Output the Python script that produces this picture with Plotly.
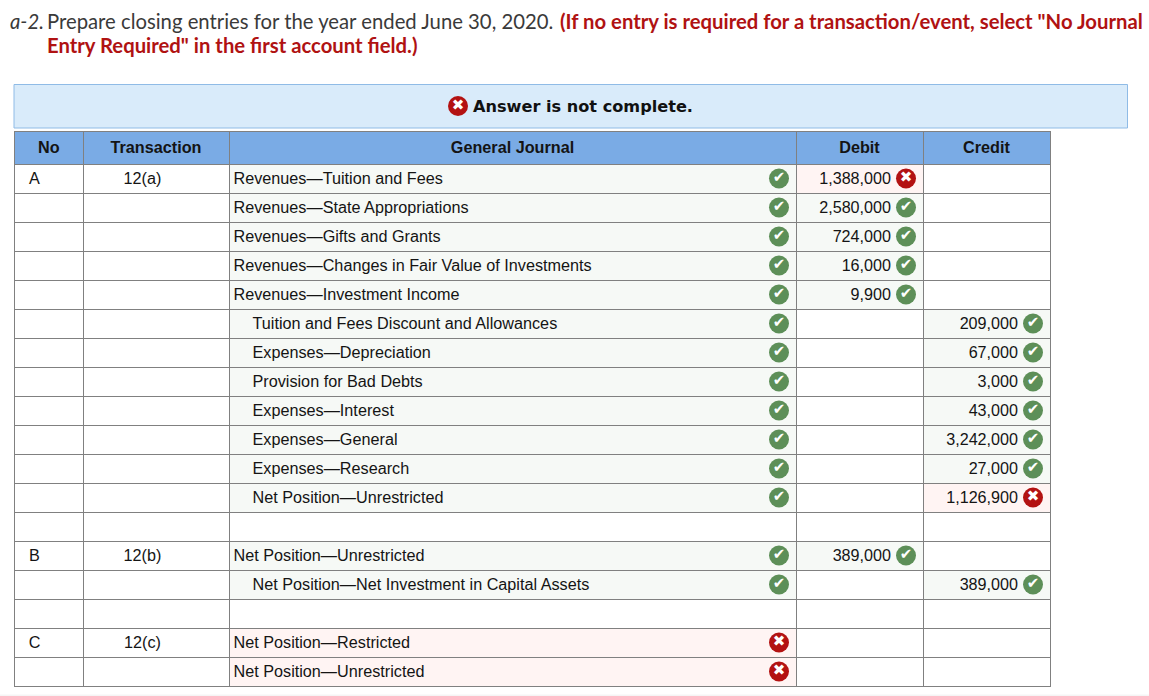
import plotly.graph_objects as go

# ---------- data ----------
headers = ["No", "Transaction", "General Journal", "Debit", "Credit"]
row_no = ["A", "", "", "", "", "", "", "", "", "", "", "", "", "B", "", "", "C", ""]
transactions = ["12(a)", "", "", "", "", "", "", "", "", "", "", "", "", "12(b)", "", "", "12(c)", ""]
accounts = [
    "Revenues—Tuition and Fees", "Revenues—State Appropriations", "Revenues—Gifts and Grants",
    "Revenues—Changes in Fair Value of Investments", "Revenues—Investment Income",
    "Tuition and Fees Discount and Allowances", "Expenses—Depreciation", "Provision for Bad Debts",
    "Expenses—Interest", "Expenses—General", "Expenses—Research", "Net Position—Unrestricted", "",
    "Net Position—Unrestricted", "Net Position—Net Investment in Capital Assets", "",
    "Net Position—Restricted", "Net Position—Unrestricted",
]
indented = [0, 0, 0, 0, 0, 1, 1, 1, 1, 1, 1, 1, 0, 0, 1, 0, 0, 0]
debit = [1388000, 2580000, 724000, 16000, 9900, None, None, None, None, None, None, None, None,
         389000, None, None, None, None]
credit = [None, None, None, None, None, 209000, 67000, 3000, 43000, 3242000, 27000, 1126900, None,
          None, 389000, None, None, None]
# 1 = correct, 0 = wrong, None = nothing graded
journal_ok = [1, 1, 1, 1, 1, 1, 1, 1, 1, 1, 1, 1, None, 1, 1, None, 0, 0]
debit_ok = [0, 1, 1, 1, 1, None, None, None, None, None, None, None, None, 1, None, None, None, None]
credit_ok = [None, None, None, None, None, 1, 1, 1, 1, 1, 1, 0, None, None, 1, None, None, None]

title_lead = "a-2."
title_text = "Prepare closing entries for the year ended June 30, 2020."
title_bold_1 = '(If no entry is required for a transaction/event, select "No Journal'
title_bold_2 = 'Entry Required" in the first account field.)'
banner_text = "Answer is not complete."

# ---------- layout constants ----------
W, H = 1149, 696
col_edges = [14.5, 83, 229, 796, 923, 1050]
TOP, HEAD_BOTTOM, ROW_H = 131.5, 164, 29
N = len(accounts)
head_rows = (HEAD_BOTTOM - TOP) / ROW_H
BOTTOM = HEAD_BOTTOM + N * ROW_H
TEXT_DROP = 1 / ROW_H  # text sits one pixel below the row centre

GREEN, RED = "#5d8f58", "#b31212"
OK_BG, BAD_BG = "#f6f9f6", "#fff4f3"
HEAD_BG = "#7aabe5"
GRID = "#808080"
INK = "#141414"
BODY = "Liberation Sans, Arial, sans-serif"
TITLE = "Lato, sans-serif"
ROWS = list(range(N))


def fmt(v):
    return "" if v is None else f"{v:,}"


def px(x):
    return x / W


def py(y):
    return 1 - y / H


fig = go.Figure()

shapes = [
    dict(type="rect", xref="x", yref="y", x0=col_edges[0], x1=col_edges[-1], y0=-head_rows, y1=0,
         fillcolor=HEAD_BG, line_width=0, layer="below"),
    dict(type="rect", xref="paper", yref="paper", x0=px(14), x1=px(1127.5), y0=py(84.5), y1=py(128),
         fillcolor="#d9ebfa", line=dict(color="#8fbbe6", width=1), layer="below"),
    dict(type="rect", xref="paper", yref="paper", x0=0, x1=1, y0=0, y1=py(694.5),
         fillcolor="#f5f5f5", line_width=0, layer="below"),
]
for col, states in ((2, journal_ok), (3, debit_ok), (4, credit_ok)):
    for i, s in enumerate(states):
        if s is not None:
            shapes.append(dict(type="rect", xref="x", yref="y", x0=col_edges[col], x1=col_edges[col + 1],
                               y0=i, y1=i + 1, fillcolor=OK_BG if s else BAD_BG, line_width=0, layer="below"))

centers = [i + 0.5 for i in ROWS]
text_rows = [c + TEXT_DROP for c in centers]
text_font = dict(family=BODY, size=16.22, color=INK)
amount_font = dict(family=BODY, size=16.15, color=INK)

fig.add_trace(go.Scatter(
    x=[(col_edges[i] + col_edges[i + 1]) / 2 for i in range(5)], y=[-head_rows / 2 + TEXT_DROP] * 5,
    text=[f"<b>{h}</b>" for h in headers], mode="text", textposition="middle center",
    textfont=text_font, hoverinfo="skip", showlegend=False))
fig.add_trace(go.Scatter(x=[34.5] * N, y=text_rows, text=row_no, mode="text", textposition="middle center",
                         textfont=text_font, hoverinfo="skip", showlegend=False))
fig.add_trace(go.Scatter(x=[142.5] * N, y=text_rows, text=transactions, mode="text", textposition="middle center",
                         textfont=text_font, hoverinfo="skip", showlegend=False))
fig.add_trace(go.Scatter(x=[252.5 if ind else 233.5 for ind in indented], y=text_rows, text=accounts, mode="text",
                         textposition="middle right", textfont=text_font, hoverinfo="skip", showlegend=False))
fig.add_trace(go.Scatter(x=[891] * N, y=text_rows, text=[fmt(v) for v in debit], mode="text",
                         textposition="middle left", textfont=amount_font, hoverinfo="skip", showlegend=False))
fig.add_trace(go.Scatter(x=[1018] * N, y=text_rows, text=[fmt(v) for v in credit], mode="text",
                         textposition="middle left", textfont=amount_font, hoverinfo="skip", showlegend=False))

glyph_font = dict(family="DejaVu Sans", size=15, color="white")

for states, xpos in ((journal_ok, 779), (debit_ok, 906), (credit_ok, 1033)):
    idx = [i for i, s in enumerate(states) if s is not None]
    fig.add_trace(go.Scatter(
        x=[xpos] * len(idx), y=[centers[i] for i in idx],
        text=["✔" if states[i] else "✖" for i in idx], mode="markers+text",
        textposition="middle center",
        marker=dict(size=20, color=[GREEN if states[i] else RED for i in idx], line_width=0),
        textfont=glyph_font, hoverinfo="skip", showlegend=False))

# banner icon on a page-wide overlay axis pair
fig.add_trace(go.Scatter(x=[458], y=[106], text=["✖"], mode="markers+text", xaxis="x2", yaxis="y2",
                         textposition="middle center",
                         marker=dict(size=20, color=RED, line_width=0),
                         textfont=glyph_font, hoverinfo="skip", showlegend=False))


def note(text, x, y, family=TITLE, size=20.3, color="#3a3a3a"):
    return dict(text=text, x=px(x), y=py(y), xref="paper", yref="paper", xanchor="left", yanchor="middle",
                showarrow=False, font=dict(family=family, size=size, color=color), align="left",
                borderpad=0, borderwidth=0)


annotations = [
    note(f"<i>{title_lead}</i>", 10, 21),
    note(title_text, 47, 21),
    note(f"<b>{title_bold_1}</b>", 560, 21, color="#b01212"),
    note(f"<b>{title_bold_2}</b>", 47, 45, color="#b01212"),
    note(f"<b>{banner_text}</b>", 473, 106, family="DejaVu Sans, Verdana, sans-serif", size=16.15, color="#111111"),
]

fig.update_layout(
    width=W, height=H, autosize=False, margin=dict(l=0, r=0, t=0, b=0),
    paper_bgcolor="white", plot_bgcolor="rgba(0,0,0,0)", showlegend=False,
    shapes=shapes, annotations=annotations,
    xaxis=dict(domain=[px(col_edges[0]), px(col_edges[-1])], range=[col_edges[0], col_edges[-1]],
               tickmode="array", tickvals=col_edges, showticklabels=False, ticks="",
               showgrid=True, gridcolor=GRID, gridwidth=1, zeroline=False,
               showline=True, mirror=True, linecolor=GRID, linewidth=1, fixedrange=True),
    yaxis=dict(domain=[py(BOTTOM), py(TOP)], range=[N, -head_rows],
               tickmode="array", tickvals=[-head_rows] + list(range(N + 1)), showticklabels=False, ticks="",
               showgrid=True, gridcolor=GRID, gridwidth=1, zeroline=False,
               showline=True, mirror=True, linecolor=GRID, linewidth=1, fixedrange=True),
    xaxis2=dict(domain=[0, 1], range=[0, W], visible=False, fixedrange=True, anchor="y2"),
    yaxis2=dict(domain=[0, 1], range=[H, 0], visible=False, fixedrange=True, anchor="x2"),
)

fig.write_html("out.html", config=dict(displayModeBar=False),
               post_script="document.body.style.margin='0';document.documentElement.style.overflow='hidden';")
